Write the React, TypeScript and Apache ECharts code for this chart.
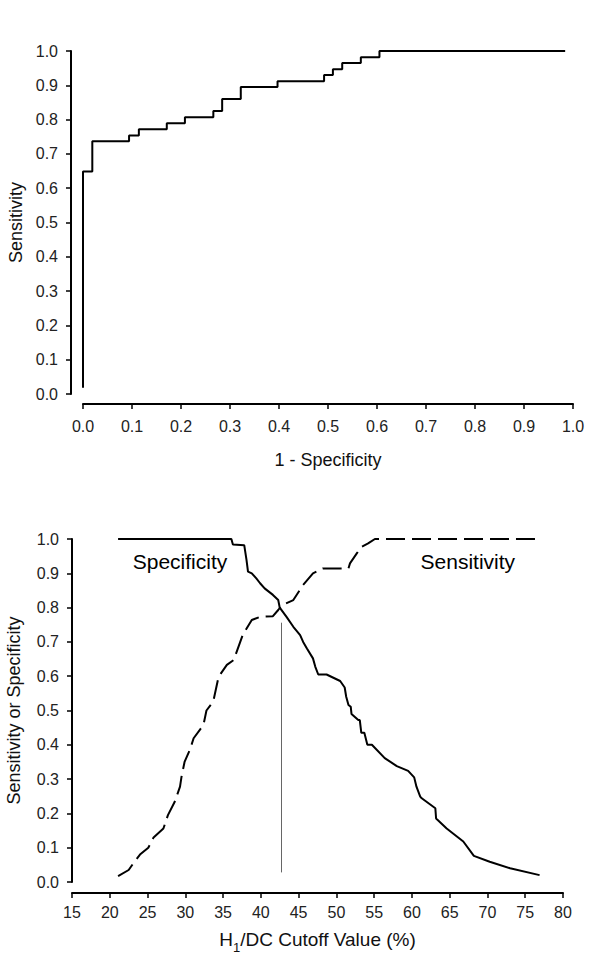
import React, { useEffect, useRef } from 'react';
import * as echarts from 'echarts';

// Top panel: ROC curve (stepped)
const rocFpr = [0, 0, 0.019, 0.094, 0.114, 0.171, 0.208, 0.266, 0.284, 0.322, 0.397, 0.492, 0.510, 0.529, 0.567, 0.605, 0.984];
const rocSens = [0.018, 0.649, 0.737, 0.754, 0.772, 0.789, 0.807, 0.825, 0.860, 0.895, 0.912, 0.930, 0.947, 0.965, 0.982, 1.0, 1.0];

// Bottom panel: specificity vs cutoff (solid)
const specCut = [21.1, 36.1, 36.3, 37.8, 38.1, 38.3, 38.8, 39.4, 39.9, 40.5, 41.6, 42.3, 42.5, 43.4, 44.3, 45.2, 45.6, 46.1, 46.9, 47.2, 47.6, 48.7, 50.5, 51.1, 51.3, 51.6, 51.9, 52.0, 52.9, 53.1, 53.3, 53.7, 54.1, 54.7, 56.4, 58.0, 59.5, 60.3, 60.6, 61.1, 61.3, 63.1, 63.2, 64.6, 66.8, 68.2, 70.3, 73.0, 76.9];
const specVal = [1.0, 1.0, 0.984, 0.982, 0.939, 0.905, 0.90, 0.885, 0.871, 0.856, 0.837, 0.822, 0.80, 0.773, 0.744, 0.72, 0.70, 0.681, 0.652, 0.628, 0.605, 0.605, 0.586, 0.567, 0.54, 0.516, 0.511, 0.49, 0.472, 0.472, 0.435, 0.435, 0.40, 0.40, 0.361, 0.338, 0.324, 0.305, 0.278, 0.249, 0.244, 0.215, 0.185, 0.156, 0.118, 0.076, 0.059, 0.040, 0.020];

// Bottom panel: sensitivity vs cutoff (dashed)
const sensCut = [21.1, 22.5, 23.1, 24.0, 25.1, 25.8, 27.1, 27.7, 28.6, 29.3, 29.5, 29.9, 30.6, 31.1, 32.4, 32.8, 33.7, 34.4, 35.5, 36.4, 37.6, 38.8, 39.9, 41.6, 42.3, 42.8, 44.3, 45.6, 46.9, 48.2, 51.6, 51.8, 52.7, 53.3, 54.2, 55.1, 77.1];
const sensVal = [0.017, 0.035, 0.054, 0.08, 0.10, 0.13, 0.156, 0.195, 0.234, 0.278, 0.307, 0.35, 0.385, 0.419, 0.458, 0.50, 0.526, 0.598, 0.633, 0.647, 0.72, 0.764, 0.773, 0.775, 0.793, 0.807, 0.822, 0.866, 0.90, 0.914, 0.914, 0.929, 0.958, 0.977, 0.987, 1.0, 1.0];

// Optimal cutoff marker
const cutoffX = 42.75;
const cutoffRange = [0.028, 0.756];

const FONT = 'Liberation Sans, Arial, sans-serif';

export default function App() {
  const ref = useRef<HTMLDivElement>(null);
  useEffect(() => {
    document.body.style.margin = '0';
    const chart = echarts.init(ref.current!, null, { renderer: 'svg' });
    const axisLine = { show: true, onZero: false, lineStyle: { color: '#000', width: 2 } };
    const axisTick = { show: true, length: 5, lineStyle: { color: '#000', width: 1.5 } };
    const labelStyle = { fontSize: 16, color: '#222', fontFamily: FONT };
    const nameStyle = { fontSize: 18, color: '#111', fontFamily: FONT };
    chart.setOption({
      animation: false,
      textStyle: { fontFamily: FONT },
      grid: [
        { left: 83, top: 51, width: 490, height: 343, outerBoundsMode: 'none', containLabel: false },
        { left: 72, top: 539, width: 491, height: 343, outerBoundsMode: 'none', containLabel: false },
      ],
      xAxis: [
        {
          type: 'value', gridIndex: 0, min: 0, max: 1, interval: 0.1, offset: 10,
          axisLine, axisTick, splitLine: { show: false },
          axisLabel: { ...labelStyle, margin: 14, formatter: (v: number) => v.toFixed(1) },
          name: '1 - Specificity', nameLocation: 'middle', nameGap: 47, nameTextStyle: nameStyle,
        },
        {
          type: 'value', gridIndex: 1, min: 15, max: 80, interval: 5, offset: 11,
          axisLine, axisTick, splitLine: { show: false },
          axisLabel: { ...labelStyle, margin: 11 },
          name: '{a|H}{s|1}{a|/DC Cutoff Value (%)}', nameLocation: 'middle', nameGap: 37,
          nameTextStyle: {
            ...nameStyle,
            rich: {
              a: { fontSize: 19, color: '#111', fontFamily: FONT, verticalAlign: 'bottom', padding: [0, 0, 5, 0] },
              s: { fontSize: 13, color: '#111', fontFamily: FONT, verticalAlign: 'bottom' },
            },
          },
        },
      ],
      yAxis: [
        {
          type: 'value', gridIndex: 0, min: 0, max: 1, interval: 0.1, offset: 12,
          axisLine, axisTick, splitLine: { show: false },
          axisLabel: { ...labelStyle, margin: 13, formatter: (v: number) => v.toFixed(1) },
          name: 'Sensitivity', nameLocation: 'middle', nameGap: 44, nameTextStyle: nameStyle,
        },
        {
          type: 'value', gridIndex: 1, min: 0, max: 1, interval: 0.1, offset: 0,
          axisLine, axisTick, splitLine: { show: false },
          axisLabel: { ...labelStyle, margin: 13, formatter: (v: number) => v.toFixed(1) },
          name: 'Sensitivity or Specificity', nameLocation: 'middle', nameGap: 49, nameTextStyle: nameStyle,
        },
      ],
      series: [
        {
          type: 'line', xAxisIndex: 0, yAxisIndex: 0, step: 'end', symbol: 'none',
          lineStyle: { color: '#000', width: 2 },
          data: rocFpr.map((x, i) => [x, rocSens[i]]),
        },
        {
          type: 'line', xAxisIndex: 1, yAxisIndex: 1, symbol: 'none',
          lineStyle: { color: '#000', width: 2 },
          data: specCut.map((x, i) => [x, specVal[i]]),
          markPoint: {
            symbol: 'rect', symbolSize: 1, itemStyle: { color: 'rgba(0,0,0,0)' },
            label: { show: true, position: 'inside', fontSize: 21, color: '#000', fontFamily: FONT, formatter: '{b}' },
            data: [{ name: 'Specificity', coord: [29.3, 0.933] }],
          },
          markLine: {
            silent: true, symbol: ['none', 'none'],
            lineStyle: { color: '#666', width: 1, type: 'solid' },
            label: { show: false },
            data: [[{ coord: [cutoffX, cutoffRange[0]] }, { coord: [cutoffX, cutoffRange[1]] }]],
          },
        },
        {
          type: 'line', xAxisIndex: 1, yAxisIndex: 1, symbol: 'none',
          lineStyle: { color: '#000', width: 2, type: [19, 7] },
          data: sensCut.map((x, i) => [x, sensVal[i]]),
          markPoint: {
            symbol: 'rect', symbolSize: 1, itemStyle: { color: 'rgba(0,0,0,0)' },
            label: { show: true, position: 'inside', fontSize: 21, color: '#000', fontFamily: FONT, formatter: '{b}' },
            data: [{ name: 'Sensitivity', coord: [67.4, 0.933] }],
          },
        },
      ],
    });
    return () => chart.dispose();
  }, []);
  return <div ref={ref} style={{ width: 600, height: 956 }} />;
}
